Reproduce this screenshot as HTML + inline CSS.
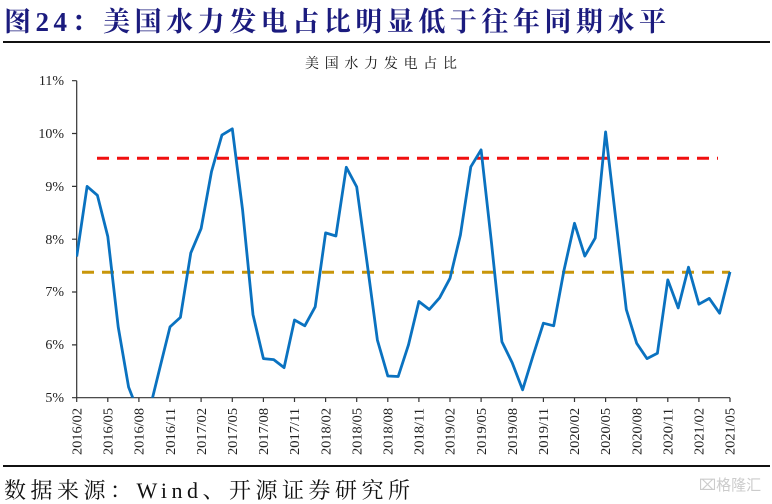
<!DOCTYPE html>
<html><head><meta charset="utf-8"><style>
html,body{margin:0;padding:0;background:#fff;width:772px;height:504px;overflow:hidden}
svg{display:block}
.t{font-family:"Liberation Serif","Noto Serif CJK SC",serif}
</style></head><body>
<svg width="772" height="504" viewBox="0 0 772 504" xmlns="http://www.w3.org/2000/svg">
<text class="t" x="4" y="31" font-size="27" font-weight="bold" fill="#1b1b7e" textLength="662" lengthAdjust="spacing">图24：美国水力发电占比明显低于往年同期水平</text>
<line x1="3" y1="42" x2="770" y2="42" stroke="#111" stroke-width="2"/>
<text class="t" x="305" y="68" font-size="14" fill="#111" textLength="152" lengthAdjust="spacing">美国水力发电占比</text>
<g class="t" font-size="14" fill="#222" text-anchor="end">
<text x="64" y="85">11%</text><text x="64" y="138">10%</text><text x="64" y="191">9%</text>
<text x="64" y="244">8%</text><text x="64" y="296">7%</text><text x="64" y="349">6%</text><text x="64" y="402">5%</text>
</g>
<g stroke="#333" stroke-width="1.2" fill="none">
<line x1="76.7" y1="80.7" x2="76.7" y2="397.7"/>
<line x1="76.7" y1="397.7" x2="730" y2="397.7"/>
<path d="M72 80.7H76.7M72 133.5H76.7M72 186.4H76.7M72 239.2H76.7M72 292H76.7M72 344.9H76.7M72 397.7H76.7"/>
<path id="xt"/>
</g>
<line x1="97" y1="158.3" x2="718" y2="158.3" stroke="#f01010" stroke-width="3" stroke-dasharray="12,8"/>
<line x1="82" y1="272.3" x2="730" y2="272.3" stroke="#c8960a" stroke-width="3" stroke-dasharray="12,8"/>
<defs><clipPath id="c"><rect x="76" y="75" width="660" height="322.7"/></clipPath></defs>
<polyline id="ln" clip-path="url(#c)" fill="none" stroke="#0a72c0" stroke-width="2.8" stroke-linejoin="round"/>
<g class="t" font-size="14" fill="#222" text-anchor="end">
<text transform="translate(81.5,408) rotate(-90)" textLength="47" lengthAdjust="spacingAndGlyphs">2016/02</text>
<text transform="translate(112.6,408) rotate(-90)" textLength="47" lengthAdjust="spacingAndGlyphs">2016/05</text>
<text transform="translate(143.7,408) rotate(-90)" textLength="47" lengthAdjust="spacingAndGlyphs">2016/08</text>
<text transform="translate(174.8,408) rotate(-90)" textLength="47" lengthAdjust="spacingAndGlyphs">2016/11</text>
<text transform="translate(205.9,408) rotate(-90)" textLength="47" lengthAdjust="spacingAndGlyphs">2017/02</text>
<text transform="translate(237,408) rotate(-90)" textLength="47" lengthAdjust="spacingAndGlyphs">2017/05</text>
<text transform="translate(268.1,408) rotate(-90)" textLength="47" lengthAdjust="spacingAndGlyphs">2017/08</text>
<text transform="translate(299.2,408) rotate(-90)" textLength="47" lengthAdjust="spacingAndGlyphs">2017/11</text>
<text transform="translate(330.3,408) rotate(-90)" textLength="47" lengthAdjust="spacingAndGlyphs">2018/02</text>
<text transform="translate(361.4,408) rotate(-90)" textLength="47" lengthAdjust="spacingAndGlyphs">2018/05</text>
<text transform="translate(392.5,408) rotate(-90)" textLength="47" lengthAdjust="spacingAndGlyphs">2018/08</text>
<text transform="translate(423.6,408) rotate(-90)" textLength="47" lengthAdjust="spacingAndGlyphs">2018/11</text>
<text transform="translate(454.7,408) rotate(-90)" textLength="47" lengthAdjust="spacingAndGlyphs">2019/02</text>
<text transform="translate(485.8,408) rotate(-90)" textLength="47" lengthAdjust="spacingAndGlyphs">2019/05</text>
<text transform="translate(516.9,408) rotate(-90)" textLength="47" lengthAdjust="spacingAndGlyphs">2019/08</text>
<text transform="translate(548,408) rotate(-90)" textLength="47" lengthAdjust="spacingAndGlyphs">2019/11</text>
<text transform="translate(579.1,408) rotate(-90)" textLength="47" lengthAdjust="spacingAndGlyphs">2020/02</text>
<text transform="translate(610.2,408) rotate(-90)" textLength="47" lengthAdjust="spacingAndGlyphs">2020/05</text>
<text transform="translate(641.3,408) rotate(-90)" textLength="47" lengthAdjust="spacingAndGlyphs">2020/08</text>
<text transform="translate(672.4,408) rotate(-90)" textLength="47" lengthAdjust="spacingAndGlyphs">2020/11</text>
<text transform="translate(703.5,408) rotate(-90)" textLength="47" lengthAdjust="spacingAndGlyphs">2021/02</text>
<text transform="translate(734.6,408) rotate(-90)" textLength="47" lengthAdjust="spacingAndGlyphs">2021/05</text>
</g>
<line x1="3" y1="466" x2="770" y2="466" stroke="#111" stroke-width="2"/>
<text class="t" x="4" y="498" font-size="22" fill="#111" textLength="406" lengthAdjust="spacing">数据来源：Wind、开源证券研究所</text>
<text x="730" y="490" font-size="15" fill="#ccc" text-anchor="middle" font-family="Liberation Sans, Noto Sans CJK SC, sans-serif">⌧格隆汇</text>
</svg>
<script>
var v=[7.67,9.0,8.83,8.05,6.34,5.2,4.7,4.75,5.55,6.34,6.52,7.74,8.2,9.28,9.97,10.09,8.55,6.57,5.74,5.72,5.57,6.47,6.36,6.72,8.12,8.06,9.36,8.99,7.55,6.09,5.41,5.40,6.0,6.82,6.67,6.89,7.26,8.08,9.37,9.69,7.93,6.06,5.66,5.15,5.79,6.41,6.36,7.42,8.3,7.68,8.02,10.03,8.36,6.67,6.03,5.74,5.84,7.23,6.70,7.47,6.77,6.88,6.6,7.38];
var p=v.map(function(d,i){return (76.7+10.37*i).toFixed(1)+","+(80.7+(11-d)*52.83).toFixed(1)}).join(" ");
document.getElementById("ln").setAttribute("points",p);
var t="";for(var i=0;i<=63;i+=3){var x=(76.7+10.37*i).toFixed(1);t+="M"+x+" 397.7V402";}
document.getElementById("xt").setAttribute("d",t);
</script>
</body></html>
